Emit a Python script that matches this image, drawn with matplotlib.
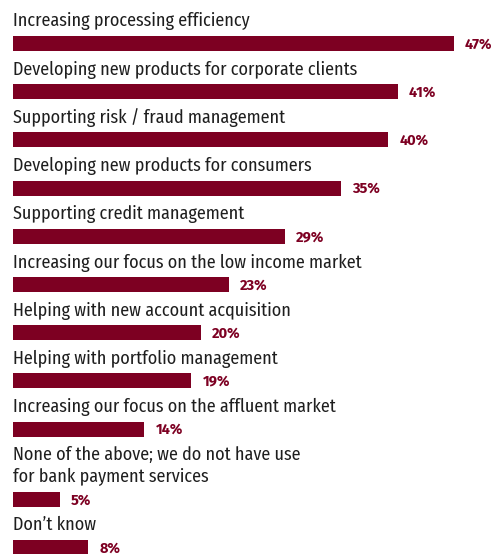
import matplotlib
matplotlib.use('Agg')
import matplotlib.pyplot as plt


categories = [
    'Increasing processing efficiency',
    'Developing new products for corporate clients',
    'Supporting risk / fraud management',
    'Developing new products for consumers',
    'Supporting credit management',
    'Increasing our focus on the low income market',
    'Helping with new account acquisition',
    'Helping with portfolio management',
    'Increasing our focus on the affluent market',
    'None of the above; we do not have use\nfor bank payment services',
    'Don\u2019t know',
]
values = [47, 41, 40, 35, 29, 23, 20, 19, 14, 5, 8]

BAR_COLOR = '#7d0022'
TEXT_COLOR = '#1e1e1e'
FONT = ['Fira Sans Condensed', 'DejaVu Sans']
NUM_FONT = ['Fira Sans', 'DejaVu Sans']

W, H = 496, 554
fig = plt.figure(figsize=(W / 100, H / 100), dpi=100)
ax = fig.add_axes([0, 0, 1, 1])

# axis units: x in percent, y in pixels from the top
left_px = 13
px_per_pct = 9.38
ax.set_xlim(-left_px / px_per_pct, (W - left_px) / px_per_pct)
ax.set_ylim(H, 0)
ax.axis('off')

first_top = 36
pitch = 48.2
extra_line = 22
bar_h = 15

# two-line labels push their own bar (and everything below) down
tops = []
extra = 0
for i, cat in enumerate(categories):
    extra += extra_line * cat.count('\n')
    tops.append(first_top + pitch * i + extra)

for cat, val, top in zip(categories, values, tops):
    ax.barh(top + bar_h / 2, val, height=bar_h, left=0, color=BAR_COLOR)
    ax.text(0, top - 9.5, cat, ha='left', va='baseline', fontsize=13,
            family=FONT, color=TEXT_COLOR, linespacing=1.3)
    ax.text(val + 1.2, top + bar_h - 2.5, '%d%%' % val, ha='left',
            va='baseline', fontsize=10.5, fontweight='bold',
            family=NUM_FONT, color=BAR_COLOR)

fig.savefig('out.png', dpi=100)
